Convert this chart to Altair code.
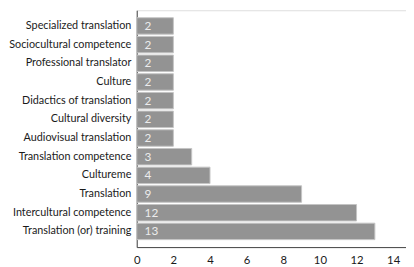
import altair as alt
import pandas as pd

categories = [
    "Specialized translation",
    "Sociocultural competence",
    "Professional translator",
    "Culture",
    "Didactics of translation",
    "Cultural diversity",
    "Audiovisual translation",
    "Translation competence",
    "Cultureme",
    "Translation",
    "Intercultural competence",
    "Translation (or) training",
]
counts = [2, 2, 2, 2, 2, 2, 2, 3, 4, 9, 12, 13]
x_ticks = [0, 2, 4, 6, 8, 10, 12, 14]

df = pd.DataFrame({"term": categories, "count": counts})

FONT = "Lato"

x_axis = alt.Axis(
    title=None, values=x_ticks, ticks=False, grid=False,
    labelFont=FONT, labelFontSize=11.5, labelColor="#1a1a1a",
    labelPadding=8, domainColor="#444", domainWidth=1,
    labelOverlap=False, labelSeparation=0, labelBound=False,
    labelFlush=False, tickCount=8,
)
x_scale = alt.Scale(domain=[0, 14.7], nice=False, zero=True)

y_enc = alt.Y(
    "term:N",
    sort=categories,
    scale=alt.Scale(paddingInner=0.12, paddingOuter=0.4),
    axis=alt.Axis(
        title=None, ticks=False, labelFont=FONT, labelFontSize=11,
        labelColor="#1a1a1a", labelPadding=6, domainColor="#444",
        domainWidth=1, labelLimit=300,
    ),
)

bars = alt.Chart(df).mark_bar(
    color="#939393", stroke="#c4c4c4", strokeWidth=1
).encode(x=alt.X("count:Q", scale=x_scale, axis=x_axis), y=y_enc)

labels = alt.Chart(df).transform_calculate(base="0").mark_text(
    align="left", baseline="middle", dx=8, color="#ececec",
    font=FONT, fontSize=12,
).encode(
    x=alt.X("base:Q", scale=x_scale, axis=x_axis),
    y=alt.Y("term:N", sort=categories),
    text="count:Q",
)

chart = (
    alt.layer(bars, labels)
    .properties(width=274, height=241)
    .configure_view(stroke=None)
    .configure_axisX(labelOverlap=False)
    .configure(padding={"top": 0, "left": 0, "right": 0, "bottom": 0})
)

chart.save("out.html", embed_options={"renderer": "svg", "actions": False})
